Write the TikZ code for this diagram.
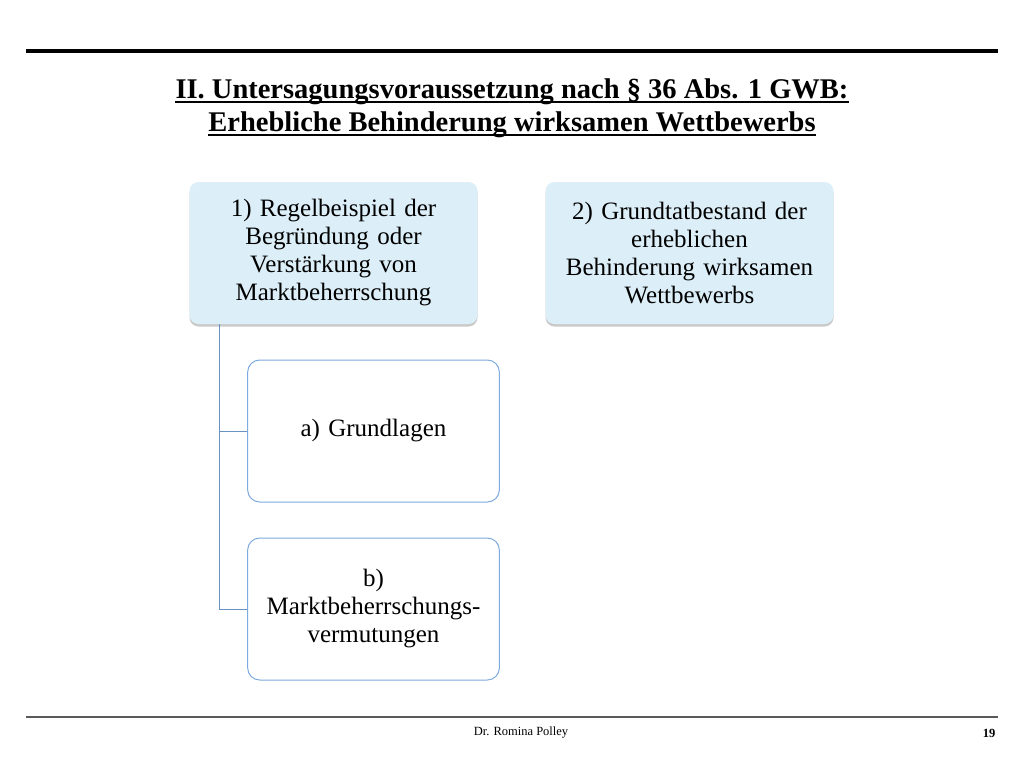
\documentclass[tikz,border=0pt]{standalone}
\usepackage{fontspec}
\setmainfont{Liberation Serif}
\usetikzlibrary{shadows,calc}
\definecolor{boxfill}{RGB}{220,239,248}
\definecolor{boxline}{RGB}{125,170,222}
\definecolor{conn}{RGB}{105,145,195}
\tikzset{
  mainbox/.style={draw=none, fill=boxfill, rounded corners=9pt, minimum width=285pt, minimum height=142pt, align=center, inner sep=4pt,
    font=\fontsize{25}{28}\selectfont, text width=280pt,
    drop shadow={shadow xshift=0pt, shadow yshift=-2.5pt, opacity=0.35, fill=black!60}},
  subbox/.style={draw=boxline, line width=1pt, fill=white, rounded corners=12pt, minimum width=251pt, minimum height=142pt, align=center,
    font=\fontsize{25}{28}\selectfont, text width=245pt},
  connline/.style={draw=conn, line width=1pt},
  titletext/.style={font=\fontsize{28.5}{33}\selectfont\bfseries, inner sep=0pt, anchor=base},
  uline/.style={line width=1.8pt},
}
\begin{document}
\begin{tikzpicture}[x=1pt,y=-1pt]
\useasboundingbox (0,0) rectangle (1024,768);
% top rule
\draw[line width=4pt] (26,51) -- (998,51);
% title
\node[titletext] (t1) at (512,98) {II. Untersagungsvoraussetzung nach § 36 Abs. 1 GWB:};
\node[titletext] (t2) at (512,131) {Erhebliche Behinderung wirksamen Wettbewerbs};
\draw[uline] ($(t1.base west)+(0,4)$) -- ($(t1.base east)+(0,4)$);
\draw[uline] ($(t2.base west)+(0,4)$) -- ($(t2.base east)+(0,4)$);
% boxes
\node[mainbox] (m1) at (333.5,253) {1) Regelbeispiel der\\Begründung oder\\Verstärkung von\\Marktbeherrschung};
\node[mainbox] (m2) at (689.5,253) {2) Grundtatbestand der\\erheblichen\\Behinderung wirksamen\\Wettbewerbs};
\node[subbox] (a) at (373.5,431) {a) Grundlagen};
\node[subbox] (b) at (373.5,609) {b)\\Marktbeherrschungs-\\vermutungen};
% connectors
\coordinate (c0) at (219,0);
\draw[connline] (m1.south -| c0) |- (a.west);
\draw[connline] (m1.south -| c0) |- (b.west);
% footer
\draw[line width=1.3pt, black!65] (26,717) -- (998,717);
\node[font=\fontsize{12.5}{14}\selectfont] (author) at (521,733) {Dr. Romina Polley};
\node[font=\fontsize{12.5}{14}\selectfont\bfseries, anchor=east] (page) at (999,733) {19};
\end{tikzpicture}
\end{document}
